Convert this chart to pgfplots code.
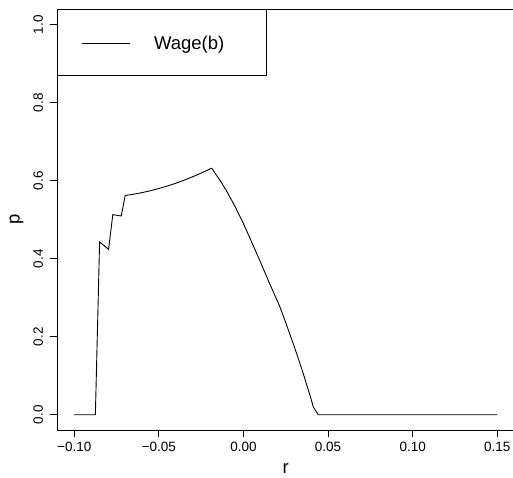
\documentclass[border=0pt]{standalone}
\usepackage{pgfplots}
\pgfplotsset{compat=1.18}
\usepackage{fontspec}
\setmainfont{Liberation Sans}
\begin{document}
\begin{tikzpicture}
\begin{axis}[
  at={(57.3pt,46.7pt)}, anchor=south west,
  scale only axis, width=456.9pt, height=421.2pt,
  xmin=-0.11, xmax=0.16, ymin=-0.04, ymax=1.04,
  axis line style={line width=0.8pt},
  tick align=outside, xtick pos=bottom, ytick pos=left,
  major tick length=7pt,
  every tick/.style={black, line width=0.8pt},
  xtick={-0.1,-0.05,0,0.05,0.1,0.15},
  xticklabels={−0.10,−0.05,0.00,0.05,0.10,0.15},
  ytick={0,0.2,0.4,0.6,0.8,1.0},
  yticklabels={0.0,0.2,0.4,0.6,0.8,1.0},
  tick label style={font=\fontsize{13.5}{16}\selectfont},
  xticklabel style={anchor=base},
  yticklabel style={rotate=90, anchor=base},
  xticklabel shift=14.5pt,
  yticklabel shift=7.5pt,
  xlabel={r}, ylabel={p},
  label style={font=\fontsize{18.5}{22}\selectfont},
  xlabel style={at={(axis description cs:0.5,-0.1030)}, anchor=base},
  ylabel style={at={(axis description cs:-0.0825,0.5)}, anchor=base, rotate=0},
  legend style={at={(axis description cs:0,1)}, anchor=north west, draw=black, line width=0.8pt,
    inner sep=0pt, font=\fontsize{18.5}{22}\selectfont,
    nodes={inner sep=0pt}},
  legend image code/.code={\path[draw=none] (0pt,-32.3pt) rectangle (96.4pt,33.7pt);
     \draw[line width=0.9pt] (24.4pt,0pt) -- (72pt,0pt);},
]
\addplot[black, line width=0.9pt] coordinates {
(-0.10,0) (-0.0875,0) (-0.0850,0.443) (-0.0797,0.424) (-0.0772,0.513)
(-0.0722,0.5095) (-0.0699,0.562) (-0.065,0.5653) (-0.06,0.5694) (-0.055,0.5742)
(-0.05,0.5799) (-0.045,0.5863) (-0.04,0.5934) (-0.035,0.6014) (-0.03,0.6101)
(-0.025,0.6196) (-0.021,0.6275) (-0.019,0.632) (-0.0182,0.6295) (-0.0174,0.623)
(-0.014,0.602) (-0.01,0.574)
(-0.005,0.534) (0.0,0.490) (0.0037,0.454) (0.01,0.392) (0.015,0.341)
(0.0215,0.277) (0.025,0.236) (0.03,0.175) (0.035,0.110) (0.04,0.040)
(0.0412,0.0205) (0.0442,0) (0.15,0)
};
\addlegendentry{\makebox[112pt][l]{Wage(b)}}
\end{axis}
\pgfresetboundingbox
\useasboundingbox (0,0) rectangle (513pt,477pt);
\end{tikzpicture}
\end{document}
